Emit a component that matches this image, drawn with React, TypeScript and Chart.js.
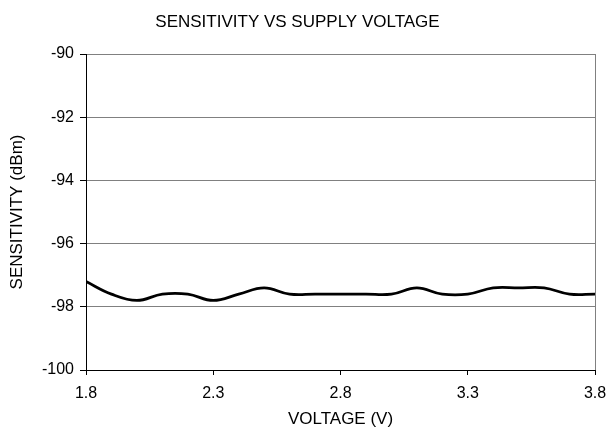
import React, { useEffect, useRef } from "react";
import { Chart, registerables } from "chart.js";

Chart.register(...registerables);

const voltages = [1.8, 1.9, 2.0, 2.1, 2.2, 2.3, 2.4, 2.5, 2.6, 2.7, 2.8, 2.9, 3.0, 3.1, 3.2, 3.3, 3.4, 3.5, 3.6, 3.7, 3.8];
const sensitivity = [-97.2, -97.6, -97.8, -97.6, -97.6, -97.8, -97.6, -97.4, -97.6, -97.6, -97.6, -97.6, -97.6, -97.4, -97.6, -97.6, -97.4, -97.4, -97.4, -97.6, -97.6];
const xTicks = [1.8, 2.3, 2.8, 3.3, 3.8];
const yTicks = [-100, -98, -96, -94, -92, -90];
const titleText = "SENSITIVITY VS SUPPLY VOLTAGE";
const xTitle = "VOLTAGE (V)";
const yTitle = "SENSITIVITY (dBm)";

const FONT = "'Liberation Sans', Arial, sans-serif";
const GRID = "#808080";

export default function App() {
  const ref = useRef<HTMLCanvasElement | null>(null);
  useEffect(() => {
    if (!ref.current) return;
    const chart = new Chart(ref.current, {
      type: "line",
      data: {
        datasets: [
          {
            data: voltages.map((v, i) => ({ x: v, y: sensitivity[i] })),
            borderColor: "#000000",
            borderWidth: 2.75,
            pointRadius: 0,
            tension: 0.4,
            fill: false,
          },
        ],
      },
      options: {
        animation: false,
        responsive: false,
        maintainAspectRatio: false,
        layout: { padding: { left: 0, right: 13, top: 0, bottom: 0 } },
        plugins: {
          legend: { display: false },
          tooltip: { enabled: false },
          title: {
            display: true,
            text: titleText,
            color: "#000",
            font: { family: FONT, size: 17, weight: "normal" },
            padding: { top: 11.8, bottom: 21.8 },
          },
        },
        scales: {
          x: {
            type: "linear",
            min: xTicks[0],
            max: xTicks[xTicks.length - 1],
            afterBuildTicks: (scale: any) => {
              scale.ticks = xTicks.map((v) => ({ value: v }));
            },
            afterFit: (scale: any) => {
              scale.height = 60;
              scale.paddingRight = 0;
              scale.paddingLeft = 0;
            },
            ticks: {
              color: "#000",
              font: { family: FONT, size: 16 },
              maxRotation: 0,
              padding: 9,
              callback: (v: any) => Number(v).toFixed(1),
            },
            grid: {
              drawOnChartArea: true,
              color: (ctx: any) => (ctx.index === xTicks.length - 1 ? GRID : "rgba(0,0,0,0)"),
              tickColor: "#000",
              tickLength: 5,
            },
            border: { color: "#000", width: 1 },
            title: {
              display: true,
              text: xTitle,
              color: "#000",
              font: { family: FONT, size: 17 },
              padding: { top: 0, bottom: 0 },
            },
          },
          y: {
            type: "linear",
            min: yTicks[0],
            max: yTicks[yTicks.length - 1],
            afterBuildTicks: (scale: any) => {
              scale.ticks = yTicks.map((v) => ({ value: v }));
            },
            afterFit: (scale: any) => {
              scale.width = 86;
            },
            ticks: {
              color: "#000",
              font: { family: FONT, size: 16 },
              padding: 6,
            },
            grid: {
              color: GRID,
              tickColor: "#000",
              tickLength: 6,
            },
            border: { color: "#000", width: 1 },
            title: {
              display: true,
              text: yTitle,
              color: "#000",
              font: { family: FONT, size: 17 },
              padding: { top: 7, bottom: 0 },
            },
          },
        },
      },
    });
    return () => chart.destroy();
  }, []);
  return (
    <div style={{ position: "fixed", left: 0, top: 0, width: 608, height: 430, background: "#fff" }}>
      <canvas ref={ref} width={608} height={430} style={{ width: 608, height: 430 }} />
    </div>
  );
}
